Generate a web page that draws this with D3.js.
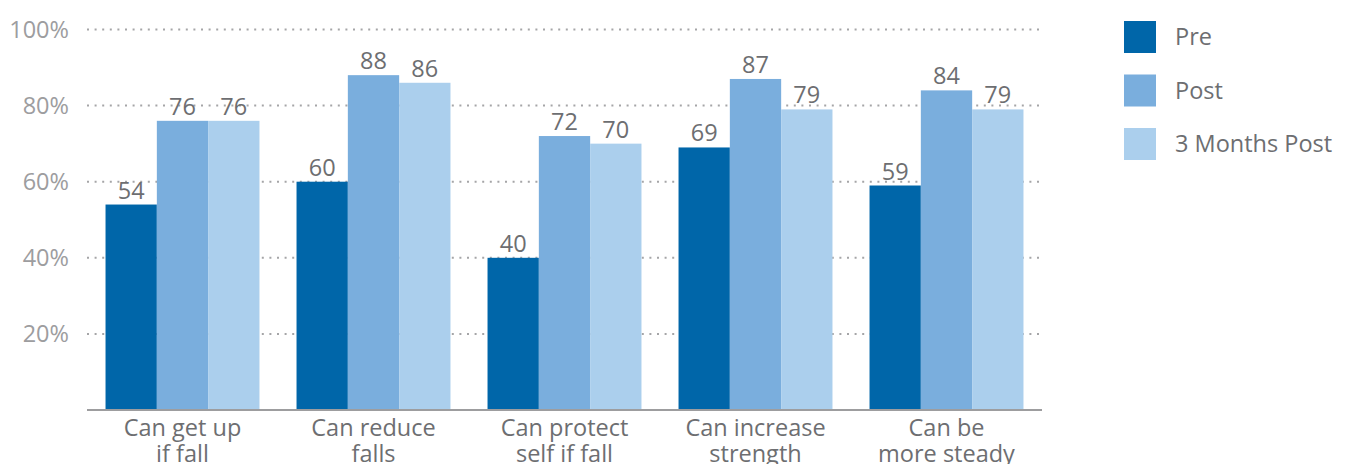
<!DOCTYPE html>
<html>
<head>
<meta charset="utf-8">
<script src="https://cdn.jsdelivr.net/npm/d3@7"></script>
<style>
  html, body { margin: 0; padding: 0; background: #fff; }
  svg { display: block; font-family: "Open Sans", "Noto Sans", sans-serif; }
</style>
</head>
<body>
<svg id="chart" width="1346" height="464"></svg>
<script>
const categories = [
  ["Can get up", "if fall"],
  ["Can reduce", "falls"],
  ["Can protect", "self if fall"],
  ["Can increase", "strength"],
  ["Can be", "more steady"]
];
const seriesNames = ["Pre", "Post", "3 Months Post"];
const preValues = [54, 60, 40, 69, 59];
const postValues = [76, 88, 72, 87, 84];
const threeMonthValues = [76, 86, 70, 79, 79];
const yTicks = [20, 40, 60, 80, 100];
const colors = ["#0066a9", "#7aaedd", "#abcfed"];

const series = [preValues, postValues, threeMonthValues];
const svg = d3.select("#chart");

const plot = { left: 87, right: 1042, top: 29.5, bottom: 410 };

const x0 = d3.scaleBand()
  .domain(d3.range(categories.length))
  .range([plot.left, plot.right])
  .paddingInner(0.194)
  .paddingOuter(0.097);

const x1 = d3.scaleBand()
  .domain(d3.range(seriesNames.length))
  .range([0, x0.bandwidth()]);

const y = d3.scaleLinear().domain([0, 100]).range([plot.bottom, plot.top]);

// dotted gridlines
svg.append("g")
  .selectAll("line")
  .data(yTicks)
  .join("line")
  .attr("x1", plot.left)
  .attr("x2", plot.right)
  .attr("y1", d => y(d))
  .attr("y2", d => y(d))
  .attr("stroke", "#a5a5a7")
  .attr("stroke-width", 2)
  .attr("stroke-dasharray", "2 5.6");

// y tick labels
svg.append("g")
  .selectAll("text")
  .data(yTicks)
  .join("text")
  .attr("x", 69)
  .attr("y", d => y(d) + 8)
  .attr("text-anchor", "end")
  .attr("font-size", 23.5)
  .attr("fill", "#9d9d9f")
  .text(d => d + "%");

// bars
const groups = svg.append("g")
  .selectAll("g")
  .data(categories)
  .join("g")
  .attr("transform", (d, i) => `translate(${x0(i)},0)`);

groups.selectAll("rect")
  .data((d, i) => series.map((s, k) => ({ k, v: s[i] })))
  .join("rect")
  .attr("x", d => x1(d.k))
  .attr("width", x1.bandwidth())
  .attr("y", d => y(d.v))
  .attr("height", d => y(0) - y(d.v))
  .attr("fill", d => colors[d.k]);

// value labels
groups.selectAll("text.val")
  .data((d, i) => series.map((s, k) => ({ k, v: s[i] })))
  .join("text")
  .attr("class", "val")
  .attr("x", d => x1(d.k) + x1.bandwidth() / 2)
  .attr("y", d => y(d.v) - 6)
  .attr("text-anchor", "middle")
  .attr("font-size", 23.5)
  .attr("fill", "#6d6e71")
  .text(d => d.v);

// baseline
svg.append("line")
  .attr("x1", plot.left)
  .attr("x2", plot.right)
  .attr("y1", y(0))
  .attr("y2", y(0))
  .attr("stroke", "#9d9d9f")
  .attr("stroke-width", 2);

// category labels
svg.append("g")
  .selectAll("text")
  .data(categories)
  .join("text")
  .attr("x", (d, i) => x0(i) + x0.bandwidth() / 2)
  .attr("y", 436)
  .attr("text-anchor", "middle")
  .attr("font-size", 23.5)
  .attr("fill", "#6d6e71")
  .selectAll("tspan")
  .data(d => d)
  .join("tspan")
  .attr("x", function () { return d3.select(this.parentNode).attr("x"); })
  .attr("dy", (d, j) => j === 0 ? 0 : 26)
  .text(d => d);

// legend
const legend = svg.append("g")
  .selectAll("g")
  .data(seriesNames)
  .join("g")
  .attr("transform", (d, i) => `translate(1124,${21 + i * 53.5})`);

legend.append("rect")
  .attr("width", 32)
  .attr("height", 32)
  .attr("fill", (d, i) => colors[i]);

legend.append("text")
  .attr("x", 51)
  .attr("y", 24)
  .attr("font-size", 23.5)
  .attr("fill", "#6d6e71")
  .text(d => d);
</script>
</body>
</html>
